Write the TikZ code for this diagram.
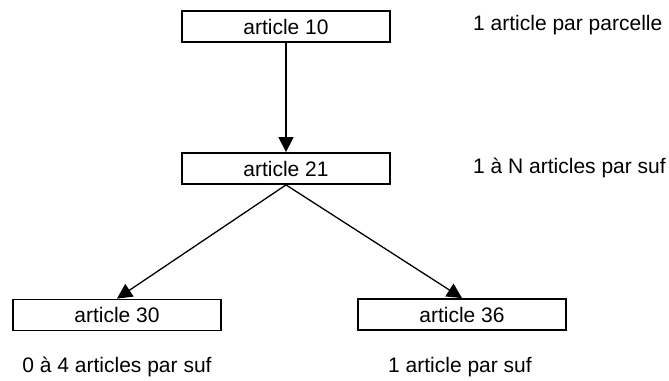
\documentclass[tikz,border=0pt]{standalone}
\usepackage{fontspec}
\setmainfont{Liberation Sans}
\usetikzlibrary{arrows.meta}
\begin{document}
\begin{tikzpicture}[x=1bp,y=-1bp,
  every node/.style={font=\fontsize{21bp}{25bp}\selectfont},
  box/.style={draw, line width=1.8bp, minimum width=208bp, minimum height=31bp, inner sep=0pt},
  lbl/.style={inner sep=0pt},
  arr/.style={line width=1.3bp, -{Triangle[length=15bp,width=15bp]}}]
\useasboundingbox (0,0) rectangle (669,380);
\node[box] (a10) at (286,26.5) {article 10};
\node[box] (a21) at (286,168.5) {article 21};
\node[box] (a30) at (117,315) {article 30};
\node[box] (a36) at (462,314.5) {article 36};
\node[lbl, anchor=west] (l10) at (473,25) {1 article par parcelle};
\node[lbl, anchor=west] (l21) at (473,168) {1 à N articles par suf};
\node[lbl] (l30) at (117,367) {0 à 4 articles par suf};
\node[lbl] (l36) at (460,367) {1 article par suf};
\draw[arr] (a10.south) -- (a21.north);
\draw[arr] (a21.south) -- (a30.north);
\draw[arr] (a21.south) -- (a36.north);
\end{tikzpicture}
\end{document}
